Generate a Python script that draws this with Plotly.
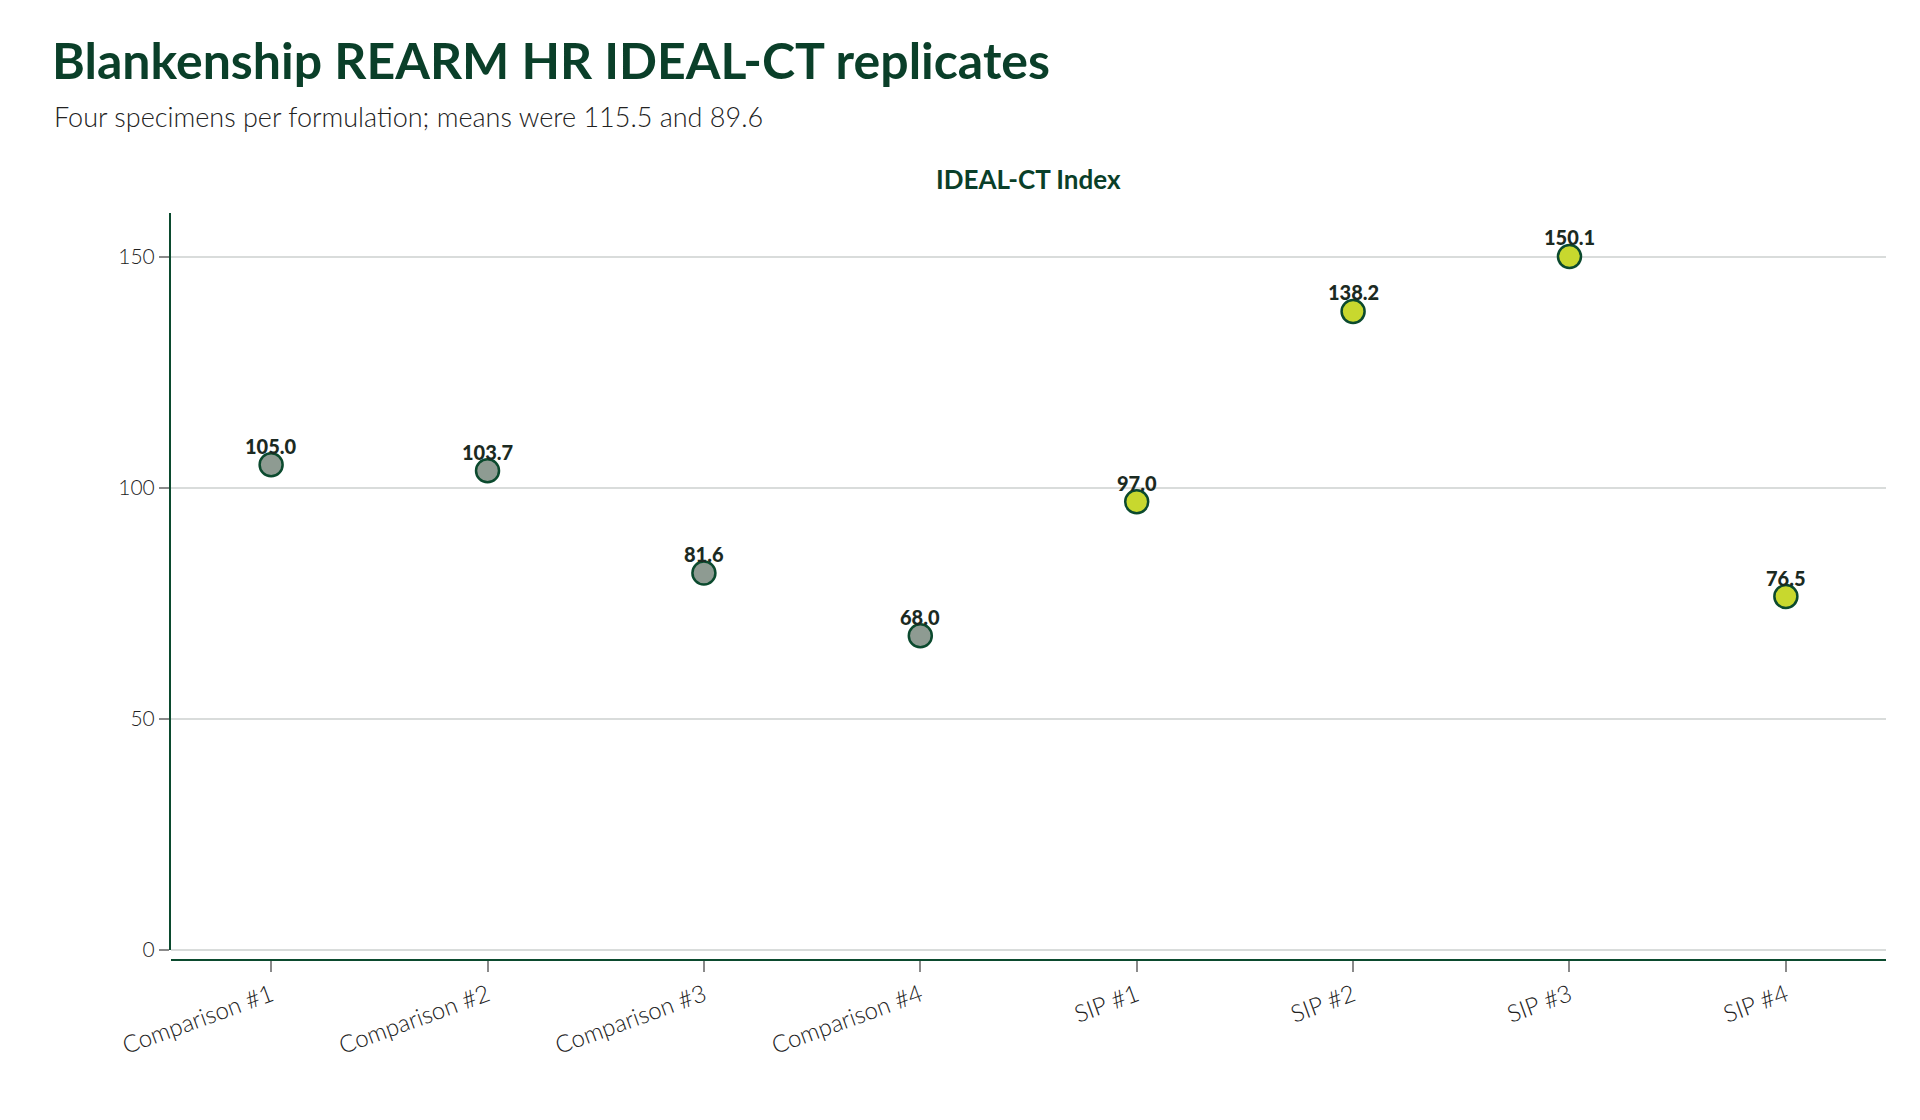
import plotly.graph_objects as go

# replicate specimens, IDEAL-CT index
comparison_labels = ["Comparison #1", "Comparison #2", "Comparison #3", "Comparison #4"]
comparison_values = [105.0, 103.7, 81.6, 68.0]
sip_labels = ["SIP #1", "SIP #2", "SIP #3", "SIP #4"]
sip_values = [97.0, 138.2, 150.1, 76.5]
y_ticks = [0, 50, 100, 150]

DARK_GREEN = "#0B4A2E"
TITLE_GREEN = "#0A3F29"
GREY_FILL = "#8E9B92"
LIME_FILL = "#C8D82E"
FONT = "Lato"

fig = go.Figure()

annotations = []
for labels, values, fill in [(comparison_labels, comparison_values, GREY_FILL),
                             (sip_labels, sip_values, LIME_FILL)]:
    fig.add_trace(go.Scatter(
        x=labels, y=values, mode="markers",
        marker=dict(size=23, color=fill, line=dict(color=DARK_GREEN, width=2.5)),
        showlegend=False, cliponaxis=False,
    ))
    # value labels sit just over the top of each marker
    for lab, val in zip(labels, values):
        annotations.append(dict(
            x=lab, y=val, xref="x", yref="y", text=f"{val:.1f}",
            showarrow=False, xanchor="center", yanchor="bottom", yshift=5,
            font=dict(family=FONT, size=20, color="#1B2A22", weight=900),
        ))

annotations += [
    dict(text="Four specimens per formulation; means were 115.5 and 89.6",
         xref="paper", yref="paper", x=(44 - 163) / 1715, y=1.1298,
         xanchor="left", yanchor="middle", showarrow=False,
         font=dict(family=FONT, size=27, color="#222222", weight=300)),
    dict(text="<b>IDEAL-CT Index</b>",
         xref="paper", yref="paper", x=0.5, y=1.0455,
         xanchor="center", yanchor="middle", showarrow=False,
         font=dict(family=FONT, size=26, color=TITLE_GREEN)),
]

fig.update_layout(
    width=1920, height=1120,
    margin=dict(l=163, r=42, t=205, b=168),
    paper_bgcolor="white", plot_bgcolor="white",
    font=dict(family=FONT, color="#2B2B2B"),
    title=dict(
        text="<b>Blankenship REARM HR IDEAL-CT replicates</b>",
        font=dict(family=FONT, size=50, color=TITLE_GREEN),
        x=44 / 1920, xref="container", xanchor="left",
        y=1 - 53 / 1120, yref="container", yanchor="middle",
    ),
    annotations=annotations,
)

fig.update_xaxes(
    categoryorder="array", categoryarray=comparison_labels + sip_labels,
    anchor="free", position=0,
    showline=True, linecolor=DARK_GREEN, linewidth=2,
    showgrid=False, ticks="outside", ticklen=11, tickwidth=2, tickcolor="#8A8A8A",
    tickangle=-20, tickfont=dict(family=FONT, size=24, color="#222222", weight=300),
)
fig.update_yaxes(
    range=[0, 159.5], domain=[10 / 747, 1],
    tickvals=y_ticks,
    showline=True, linecolor=DARK_GREEN, linewidth=2,
    showgrid=True, gridcolor="#D9DCDB", gridwidth=2,
    zeroline=True, zerolinecolor="#D9DCDB", zerolinewidth=2,
    ticks="outside", ticklen=10, tickwidth=2, tickcolor="#8A8A8A",
    tickfont=dict(family=FONT, size=21, color="#222222", weight=300),
)

fig.write_html("out.html")
